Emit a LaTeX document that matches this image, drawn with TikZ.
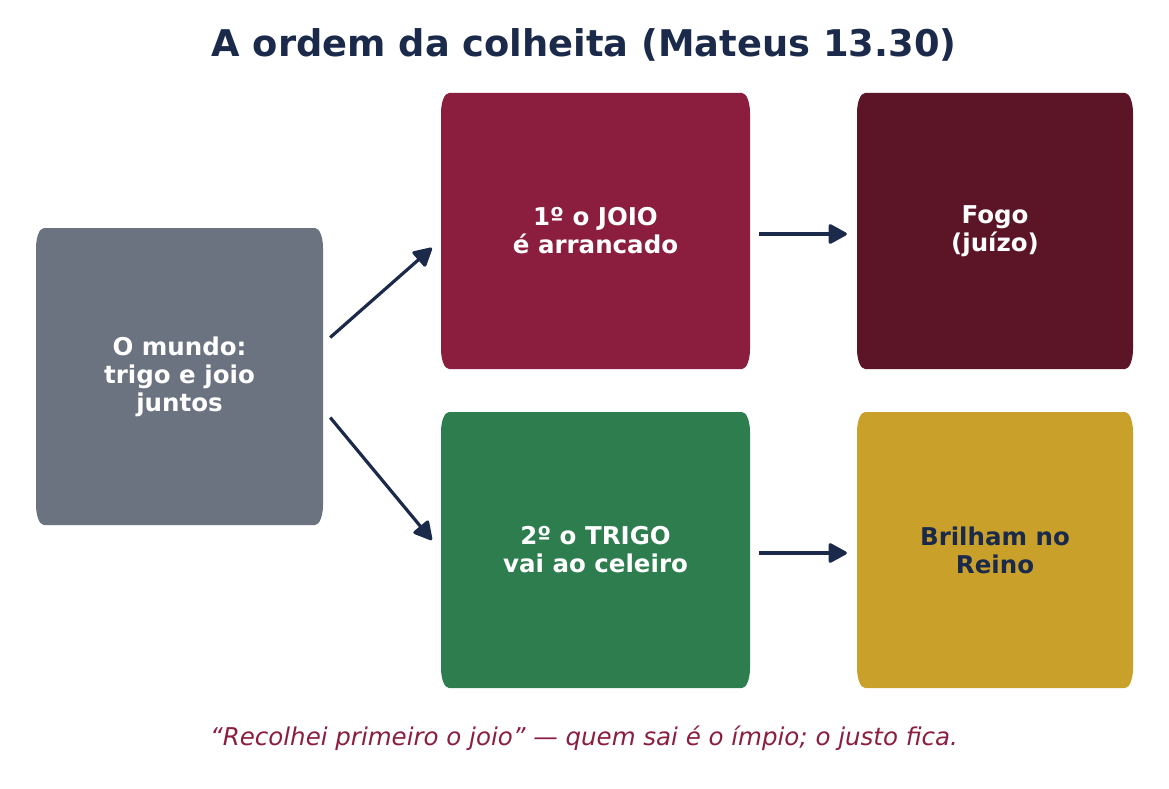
\documentclass[tikz,border=0pt]{standalone}
\usepackage{fontspec}
\setmainfont{DejaVu Sans}
\usepackage{tikz}
\usetikzlibrary{arrows.meta,positioning,calc}

\definecolor{navy}{HTML}{1B2A4A}
\definecolor{vinho}{HTML}{8B1E3F}
\definecolor{vinhoesc}{HTML}{5C1526}
\definecolor{cinza}{HTML}{6B7280}
\definecolor{verde}{HTML}{2E7D4F}
\definecolor{ouro}{HTML}{C9A12A}

% box with flattened corners: name, x1, y1, x2, y2, fill, text colour, text
\newcommand{\caixa}[8]{%
	\fill[#6] (#2+8,#3) -- (#4-8,#3) arc[start angle=-90,end angle=0,x radius=8,y radius=20]
		-- (#4,#5-20) arc[start angle=0,end angle=90,x radius=8,y radius=20]
		-- (#2+8,#5) arc[start angle=90,end angle=180,x radius=8,y radius=20]
		-- (#2,#3+20) arc[start angle=180,end angle=270,x radius=8,y radius=20] -- cycle;
	\node[text=#7, align=center, font=\bfseries\fontsize{24.5}{28}\selectfont,
		minimum width={(#4-#2)*1pt}, minimum height={(#5-#3)*1pt}, inner sep=0pt]
		(#1) at ({(#2+#4)/2},{(#3+#5)/2}) {#8};
}

\begin{document}
\begin{tikzpicture}[x=1pt,y=-1pt,
	seta/.style={navy, line width=3.2pt, -{Triangle[length=20pt,width=21pt,round]}}]
	\useasboundingbox (0,0) rectangle (1169,789);
	\node[navy, font=\bfseries\fontsize{36.8}{44}\selectfont] (titulo) at (584,45) {A ordem da colheita (Mateus 13.30)};

	\caixa{mundo}{36}{228}{323}{525}{cinza}{white}{O mundo:\\trigo e joio\\juntos}
	\caixa{joio}{441}{93}{750}{369}{vinho}{white}{1º o JOIO\\é arrancado}
	\caixa{fogo}{857}{93}{1133}{369}{vinhoesc}{white}{Fogo\\(juízo)}
	\caixa{trigo}{441}{412}{750}{688}{verde}{white}{2º o TRIGO\\vai ao celeiro}
	\caixa{reino}{857}{412}{1133}{688}{ouro}{navy}{Brilham no\\Reino}

	\draw[seta] ([xshift=7pt,yshift=39pt]mundo.east) -- ([xshift=-9pt,yshift=-17pt]joio.west);
	\draw[seta] ([xshift=7pt,yshift=-41pt]mundo.east) -- ([xshift=-9pt,yshift=10pt]trigo.west);
	\draw[seta] ([xshift=9pt,yshift=-3pt]joio.east) -- ([xshift=-10pt,yshift=-3pt]fogo.west);
	\draw[seta] ([xshift=9pt,yshift=-3pt]trigo.east) -- ([xshift=-10pt,yshift=-3pt]reino.west);

	\node[vinho, font=\itshape\fontsize{24.5}{28}\selectfont] (citacao) at (584,738) {“Recolhei primeiro o joio” — quem sai é o ímpio; o justo fica.};
\end{tikzpicture}
\end{document}
